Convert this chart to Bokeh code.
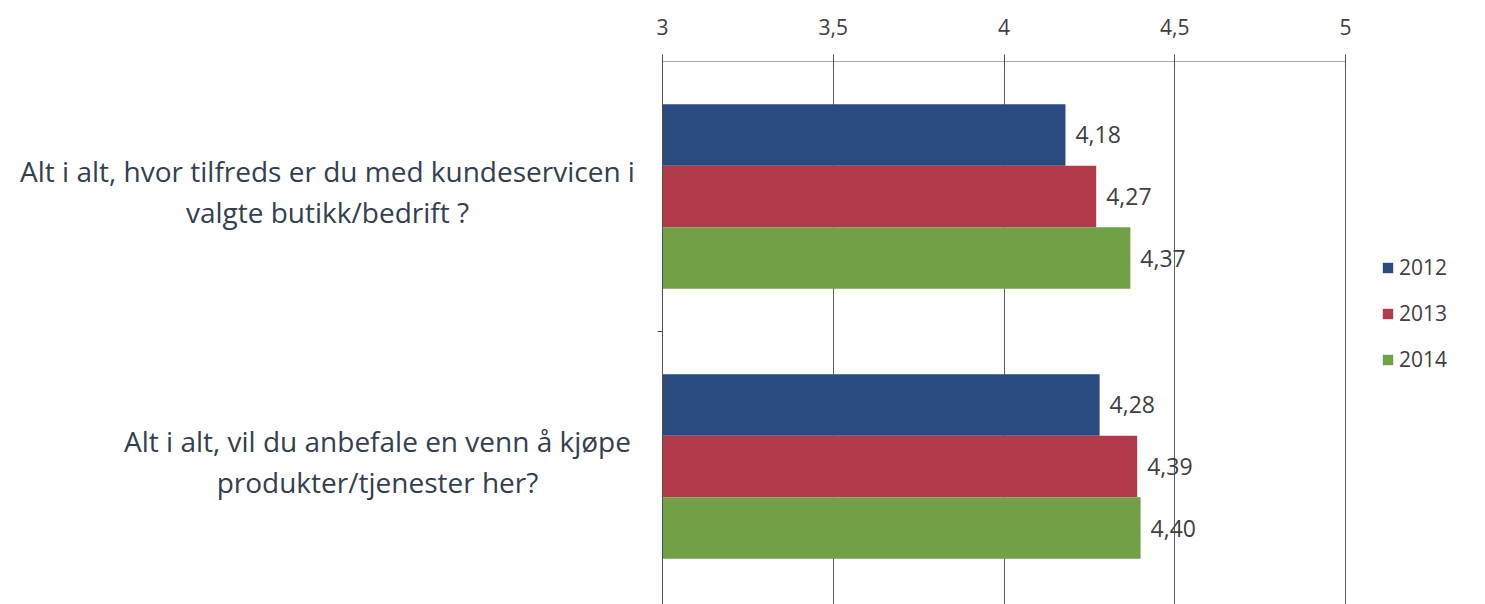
from bokeh.plotting import figure
from bokeh.models import Range1d, FixedTicker, Legend, LegendItem, ColumnDataSource, LinearAxis
from bokeh.embed import file_html
from bokeh.resources import INLINE
from bokeh.core.properties import value

# ---- data ----
categories = [
    "Alt i alt, hvor tilfreds er du med kundeservicen i\nvalgte butikk/bedrift ?",
    "Alt i alt, vil du anbefale en venn å kjøpe\nprodukter/tjenester her?",
]
series = ["2012", "2013", "2014"]
v2012 = [4.18, 4.28]
v2013 = [4.27, 4.39]
v2014 = [4.37, 4.40]
x_ticks = [3, 3.5, 4, 4.5, 5]
x_tick_labels = ["3", "3,5", "4", "4,5", "5"]

# ---- layout / style ----
colors = ["#2b4a7f", "#b23a4a", "#72a046"]
FONT = "Open Sans"
TEXT_COLOR = "#34404e"
BAR_H = 0.228
OFFSETS = [-BAR_H, 0.0, BAR_H]
W, H = 1477, 604
TOP = 61
PX_PER_UNIT = 341.5
CAT_PX = 270
AXIS_PX = 662           # screen x of value 3 inside the frame
LABEL_PX = [327, 377]   # screen x of category label centres
x_start = 3 - AXIS_PX / PX_PER_UNIT
x_end = 3 + (W - AXIS_PX) / PX_PER_UNIT
label_x = [3 + (px - AXIS_PX) / PX_PER_UNIT for px in LABEL_PX]

p = figure(width=W, height=H, output_backend="svg", toolbar_location=None,
           x_range=Range1d(x_start, x_end), y_range=Range1d((H - TOP) / CAT_PX, 0),
           x_axis_location="above", y_axis_location=None,
           min_border_left=0, min_border_right=0,
           min_border_top=TOP, min_border_bottom=0)
p.outline_line_color = None
p.background_fill_color = "white"
p.border_fill_color = "white"

# x axis (top)
xa = p.xaxis[0]
xa.ticker = FixedTicker(ticks=x_ticks)
xa.bounds = (x_ticks[0], x_ticks[-1])
xa.major_label_overrides = {t: l for t, l in zip(x_ticks, x_tick_labels)}
xa.major_label_text_font = FONT
xa.major_label_text_font_size = "21px"
xa.major_label_text_color = "#404040"
xa.major_label_standoff = 20
xa.axis_line_color = "#a8a8a8"
xa.major_tick_line_color = "#505050"
xa.major_tick_in = 7
xa.major_tick_out = 7
xa.minor_tick_line_color = None

# category axis line at x = 3 with a tick at the category boundary
ya = LinearAxis(fixed_location=3, ticker=FixedTicker(ticks=[1]),
                major_label_overrides={1: " "}, major_tick_in=0, major_tick_out=5,
                minor_tick_line_color=None, axis_line_color="#505050",
                major_tick_line_color="#505050", major_label_text_font_size="10px")
p.add_layout(ya, "left")

p.xgrid.ticker = FixedTicker(ticks=x_ticks)
p.xgrid.grid_line_color = "#606060"
p.xgrid.grid_line_width = 1
p.ygrid.grid_line_color = None

centers = [i + 0.5 for i in range(len(categories))]
items = []
for vals, name, color, off in zip([v2012, v2013, v2014], series, colors, OFFSETS):
    src = ColumnDataSource(dict(
        y=[c + off for c in centers],
        right=vals,
        lbl=[f"{v:.2f}".replace(".", ",") for v in vals],
    ))
    r = p.hbar(y="y", left=x_ticks[0], right="right", height=BAR_H, source=src,
               fill_color=color, line_color=None)
    p.text(x="right", y="y", text="lbl", source=src, x_offset=10,
           text_baseline="middle", text_align="left", text_font=value(FONT),
           text_font_size="23px", text_color="#404040")
    items.append(LegendItem(label=name, renderers=[r]))

cat_src = ColumnDataSource(dict(x=label_x, y=centers, t=categories))
p.text(x="x", y="y", text="t", source=cat_src, text_align="center", y_offset=-5,
       text_baseline="middle", text_font=value(FONT), text_font_size="28px",
       text_color=TEXT_COLOR, text_line_height=1.1)

legend = Legend(items=items, location=(1381, 231), border_line_color=None,
                background_fill_alpha=0, label_text_font=FONT,
                label_text_font_size="21px", label_text_color="#404040",
                glyph_width=13, glyph_height=13, label_height=20, spacing=18,
                label_standoff=5, padding=0, margin=0)
p.add_layout(legend, "center")

open("out.html", "w").write(file_html(p, INLINE))
